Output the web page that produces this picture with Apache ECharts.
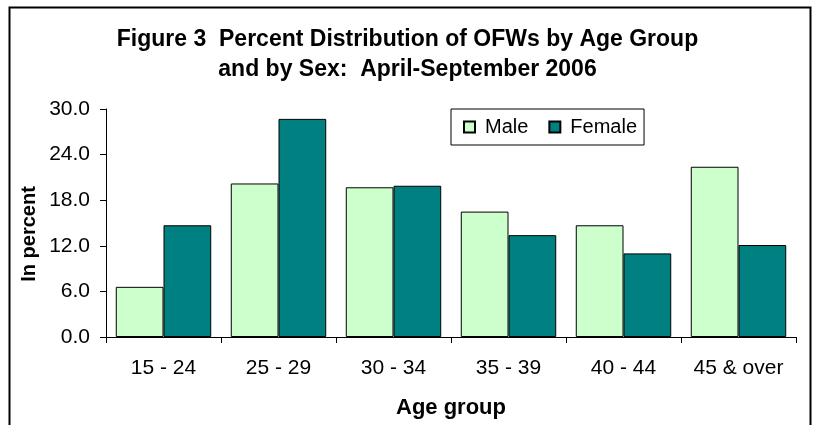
<!DOCTYPE html>
<html>
<head>
<meta charset="utf-8">
<script src="https://cdn.jsdelivr.net/npm/echarts@6/dist/echarts.min.js"></script>
<style>
  body { margin: 0; background: #fff; }
  #chart { width: 815px; height: 425px; }
</style>
</head>
<body>
<div id="chart"></div>
<script>
// age groups and shares
var ageGroups = ['15 - 24', '25 - 29', '30 - 34', '35 - 39', '40 - 44', '45 & over'];
var maleValues = [6.6, 20.2, 19.7, 16.5, 14.7, 22.4];
var femaleValues = [14.7, 28.7, 19.9, 13.4, 11.0, 12.1];

var font = 'Liberation Sans, Arial, sans-serif';
var chart = echarts.init(document.getElementById('chart'));

chart.setOption({
  animation: false,
  title: {
    text: 'Figure 3  Percent Distribution of OFWs by Age Group\nand by Sex:  April-September 2006',
    left: 'center',
    top: 25,
    padding: [0, 0, 0, 10],
    textStyle: {
      fontFamily: font,
      fontSize: 23,
      fontWeight: 'bold',
      color: '#000',
      lineHeight: 30
    }
  },
  graphic: [{
    // outer frame, bottom edge runs off the picture
    type: 'rect',
    shape: { x: 9.5, y: 7.5, width: 801, height: 440 },
    style: { fill: 'none', stroke: '#000', lineWidth: 2 },
    silent: true
  }, {
    // y axis title
    type: 'text',
    x: 29,
    y: 234,
    rotation: Math.PI / 2,
    style: {
      text: 'In percent',
      fontFamily: font,
      fontSize: 20,
      fontWeight: 'bold',
      fill: '#000',
      align: 'center',
      verticalAlign: 'middle'
    },
    silent: true
  }],
  legend: {
    left: 451,
    top: 109,
    padding: [8, 7, 8, 12],
    icon: 'rect',
    itemWidth: 11,
    itemHeight: 11,
    itemGap: 20,
    borderColor: '#000',
    borderWidth: 1,
    textStyle: { fontFamily: font, fontSize: 20, color: '#000', padding: [0, 0, 0, 5] },
    data: ['Male', 'Female']
  },
  grid: {
    left: 106,
    right: 19,
    top: 109,
    bottom: 88,
    containLabel: false,
    outerBoundsMode: 'none'
  },
  xAxis: {
    type: 'category',
    data: ageGroups,
    name: 'Age group',
    nameLocation: 'middle',
    nameGap: 60,
    nameTextStyle: { fontFamily: font, fontSize: 22, fontWeight: 'bold', color: '#000' },
    axisLine: { lineStyle: { color: '#000', width: 1 } },
    axisTick: { show: true, length: 6, lineStyle: { color: '#000' } },
    axisLabel: { fontFamily: font, fontSize: 21, color: '#000', margin: 21, interval: 0 }
  },
  yAxis: {
    type: 'value',
    min: 0,
    max: 30,
    interval: 6,
    axisLine: { show: true, lineStyle: { color: '#000', width: 1 } },
    axisTick: { show: true, length: 6, lineStyle: { color: '#000' } },
    splitLine: { show: false },
    axisLabel: {
      fontFamily: font,
      fontSize: 21,
      color: '#000',
      margin: 16,
      formatter: function (v) { return v.toFixed(1); }
    }
  },
  series: [{
    name: 'Male',
    type: 'bar',
    data: maleValues,
    barGap: '0%',
    barCategoryGap: '17%',
    itemStyle: { color: '#CCFFCC', borderColor: '#000', borderWidth: 1 }
  }, {
    name: 'Female',
    type: 'bar',
    data: femaleValues,
    itemStyle: { color: '#008080', borderColor: '#000', borderWidth: 1 }
  }]
});
</script>
</body>
</html>
